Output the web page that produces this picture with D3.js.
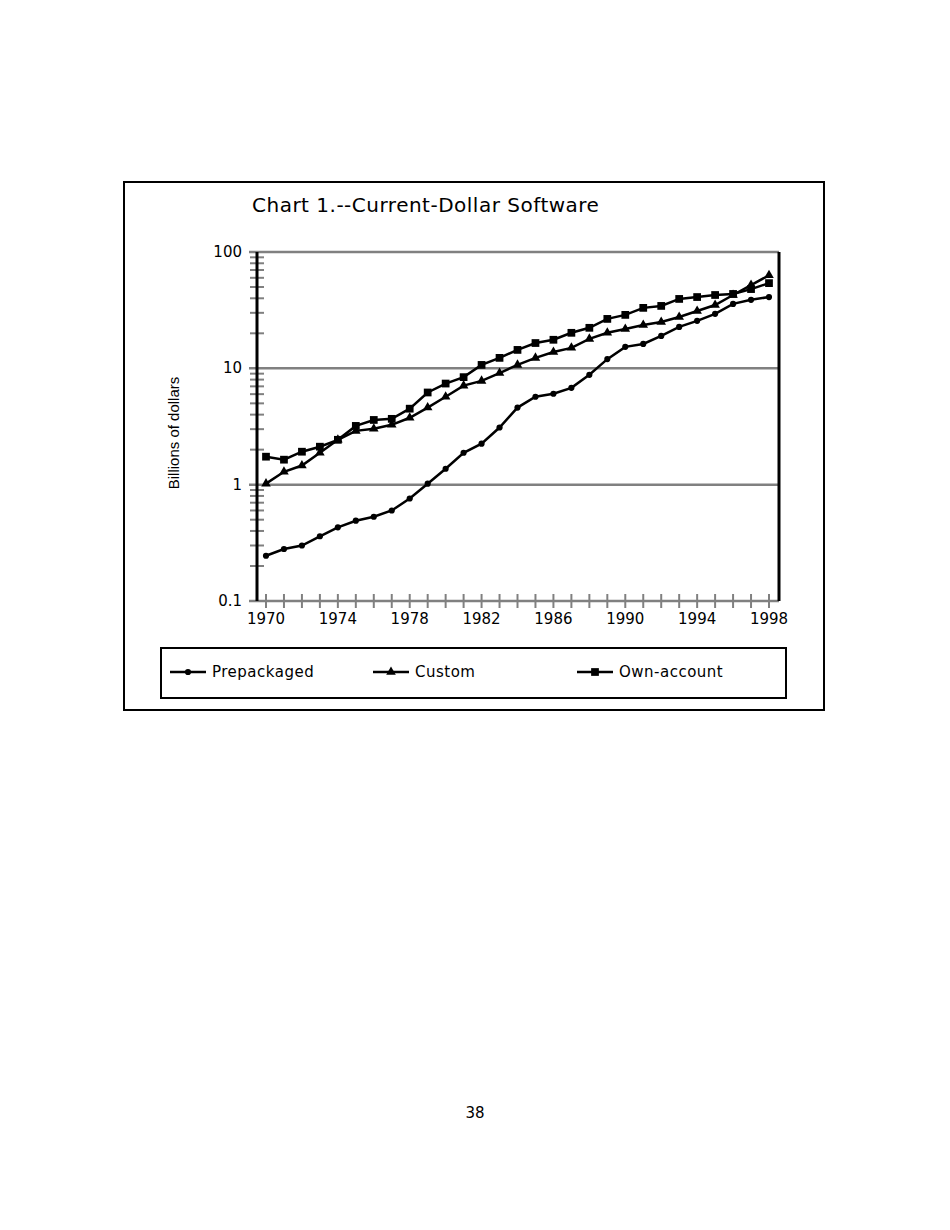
<!DOCTYPE html><html><head><meta charset="utf-8"><script src="https://cdn.jsdelivr.net/npm/d3@7"></script>
<style>body{margin:0;background:#fff}</style></head><body><svg id="c" width="950" height="1230"></svg><script>
const years=d3.range(1970,1999);
const prepackaged=[0.245,0.28,0.30,0.36,0.43,0.49,0.53,0.60,0.76,1.02,1.37,1.88,2.25,3.1,4.6,5.7,6.05,6.8,8.8,12.0,15.3,16.2,19.0,22.7,25.6,29.4,35.8,38.8,41];
const custom=[1.02,1.29,1.46,1.88,2.43,2.9,3.02,3.27,3.76,4.6,5.7,7.1,7.8,9.1,10.7,12.3,13.8,15.0,17.9,20.2,21.8,23.6,25.0,27.6,31.1,35.0,42.7,52,63];
const ownAccount=[1.74,1.64,1.92,2.12,2.43,3.2,3.6,3.68,4.5,6.2,7.4,8.4,10.7,12.3,14.4,16.5,17.6,20.2,22.3,26.6,28.8,33.1,34.4,39.5,41,42.7,43.6,48,54];
const yTicks=[0.1,1,10,100];
const xTickLabels=[1970,1974,1978,1982,1986,1990,1994,1998];
const svg=d3.select("#c");
const font="'DejaVu Sans',sans-serif";
svg.append("rect").attr("x",124).attr("y",182).attr("width",700).attr("height",528).attr("fill","none").attr("stroke","#000").attr("stroke-width",2);
svg.append("text").attr("x",252).attr("y",212).attr("font-family",font).attr("font-size",20).attr("letter-spacing","0.5").text("Chart 1.--Current-Dollar Software");
const x=d3.scaleLinear().domain([1970,1998]).range([266,769]);
const y=d3.scaleLog().domain([0.1,100]).range([601,252]);
yTicks.forEach(v=>{svg.append("line").attr("x1",249).attr("x2",779).attr("y1",y(v)).attr("y2",y(v)).attr("stroke","#808080").attr("stroke-width",2.5);});
for(let d=0.1;d<100;d*=10){for(let k=2;k<=9;k++){const v=d*k;svg.append("line").attr("x1",250).attr("x2",264).attr("y1",y(v)).attr("y2",y(v)).attr("stroke","#808080").attr("stroke-width",2);}}
years.forEach(yr=>{svg.append("line").attr("x1",x(yr)).attr("x2",x(yr)).attr("y1",594).attr("y2",608).attr("stroke","#808080").attr("stroke-width",2);});
svg.append("line").attr("x1",257).attr("x2",257).attr("y1",252).attr("y2",601).attr("stroke","#000").attr("stroke-width",3);
svg.append("line").attr("x1",779).attr("x2",779).attr("y1",252).attr("y2",601).attr("stroke","#000").attr("stroke-width",3);
yTicks.forEach(v=>svg.append("text").attr("x",242).attr("y",y(v)+5).attr("text-anchor","end").attr("font-family",font).attr("font-size",15).text(v));
xTickLabels.forEach(v=>svg.append("text").attr("x",x(v)).attr("y",624).attr("text-anchor","middle").attr("font-family",font).attr("font-size",15).text(v));
svg.append("text").attr("transform","translate(179,433) rotate(-90)").attr("text-anchor","middle").attr("font-family","'Liberation Sans',Arial,sans-serif").attr("font-size",15).text("Billions of dollars");
const line=d3.line().x((d,i)=>x(years[i])).y(d=>y(d));
const series=[["Prepackaged",prepackaged,"circle"],["Custom",custom,"triangle"],["Own-account",ownAccount,"square"]];
const sym={circle:d3.symbol().type(d3.symbolCircle).size(30),triangle:d3.symbol().type(d3.symbolTriangle).size(40),square:d3.symbol().type(d3.symbolSquare).size(60)};
series.forEach(([n,data,s])=>{
 svg.append("path").attr("d",line(data)).attr("fill","none").attr("stroke","#000").attr("stroke-width",2.5);
 data.forEach((d,i)=>svg.append("path").attr("d",sym[s]()).attr("transform",`translate(${x(years[i])},${y(d)})`).attr("fill","#000"));
});
svg.append("rect").attr("x",161).attr("y",648).attr("width",625).attr("height",50).attr("fill","none").attr("stroke","#000").attr("stroke-width",2);
const lx=[170,373,577];
series.forEach(([n,data,s],i)=>{
 svg.append("line").attr("x1",lx[i]).attr("x2",lx[i]+36).attr("y1",672).attr("y2",672).attr("stroke","#000").attr("stroke-width",2.5);
 svg.append("path").attr("d",sym[s]()).attr("transform",`translate(${lx[i]+18},672)`).attr("fill","#000");
 svg.append("text").attr("x",lx[i]+42).attr("y",677).attr("font-family",font).attr("font-size",15).attr("letter-spacing","0.5").text(n);
});
svg.append("text").attr("x",475).attr("y",1118).attr("text-anchor","middle").attr("font-family",font).attr("font-size",15).text("38");
</script></body></html>
